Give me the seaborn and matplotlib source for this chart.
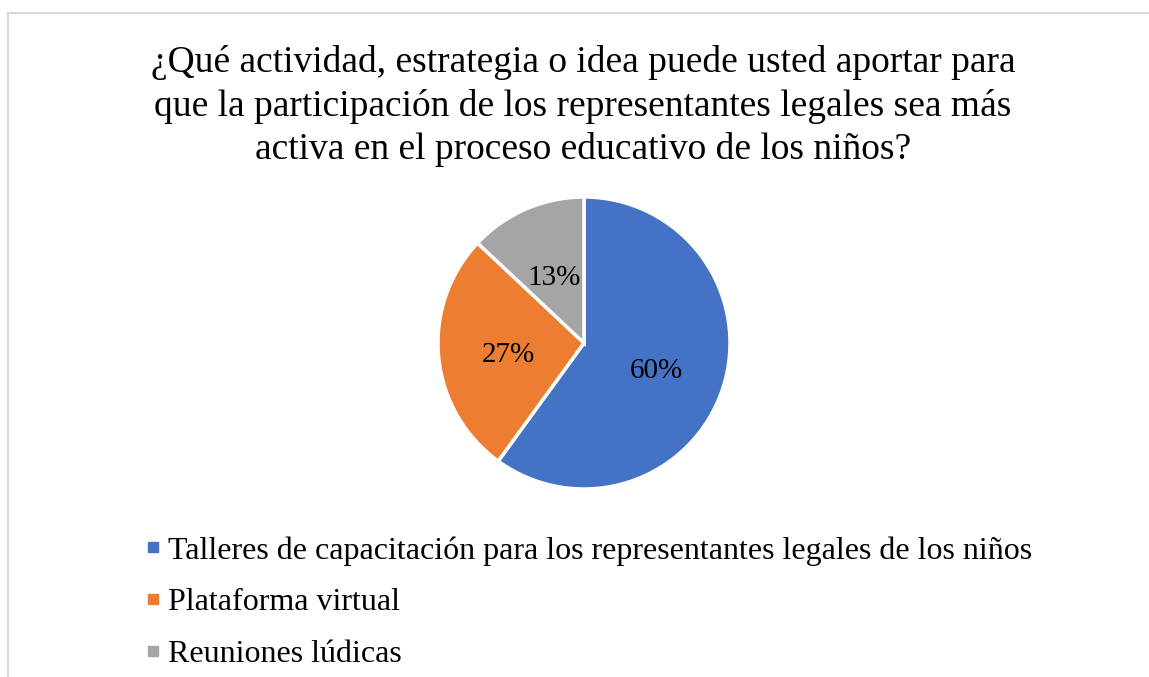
import matplotlib
matplotlib.use("Agg")
import matplotlib.pyplot as plt
import seaborn as sns
from matplotlib.patches import Rectangle
from matplotlib.lines import Line2D

title = ("¿Qué actividad, estrategia o idea puede usted aportar para\n"
         "que la participación de los representantes legales sea más\n"
         "activa en el proceso educativo de los niños?")
categories = ["Talleres de capacitación para los representantes legales de los niños",
              "Plataforma virtual",
              "Reuniones lúdicas"]
values = [60, 27, 13]
colors = ["#4472C4", "#ED7D31", "#A5A5A5"]

sns.set_theme(style="white")
plt.rcParams['font.family'] = ['Liberation Serif', 'DejaVu Serif']
plt.rcParams['text.color'] = 'black'

W, H = 1149, 677
fig = plt.figure(figsize=(W / 100, H / 100), dpi=100)

# chart border (light gray, clipped at right/bottom)
fig.patches.append(Rectangle((8 / W, -0.05), 1.2, (H - 13) / H + 0.05,
                             transform=fig.transFigure, fill=False,
                             edgecolor="#d9d9d9", linewidth=1.6))

fig.text(583 / W, 1 - 45 / H, title, ha="center", va="top",
         fontsize=27, linespacing=1.32, color="black")

cx, cy, r = 584, 343, 146
ax = fig.add_axes([(cx - r) / W, 1 - (cy + r) / H, 2 * r / W, 2 * r / H])
wedges, texts, autotexts = ax.pie(
    values, colors=colors, startangle=90, counterclock=False,
    autopct=lambda p: f"{p:.0f}%", pctdistance=0.52,
    wedgeprops=dict(edgecolor="white", linewidth=2.5),
    textprops=dict(fontsize=21, color="black"))
for t in autotexts:
    x, y = t.get_position()
    t.set_position((x, y - 0.03))
ax.set_xlim(-1, 1)
ax.set_ylim(-1, 1)
ax.set_aspect("equal")

handles = [Line2D([], [], marker="s", linestyle="", markersize=7.5,
                  markerfacecolor=c, markeredgecolor=c) for c in colors]
leg = fig.legend(handles, categories, loc="upper left",
                 bbox_to_anchor=(146 / W, 1 - 536 / H), frameon=False,
                 fontsize=23, handlelength=0.45, handletextpad=0.25,
                 labelspacing=0.7, borderpad=0, borderaxespad=0)
for t in leg.get_texts():
    t.set_color("black")

fig.savefig("out.png", dpi=100)
